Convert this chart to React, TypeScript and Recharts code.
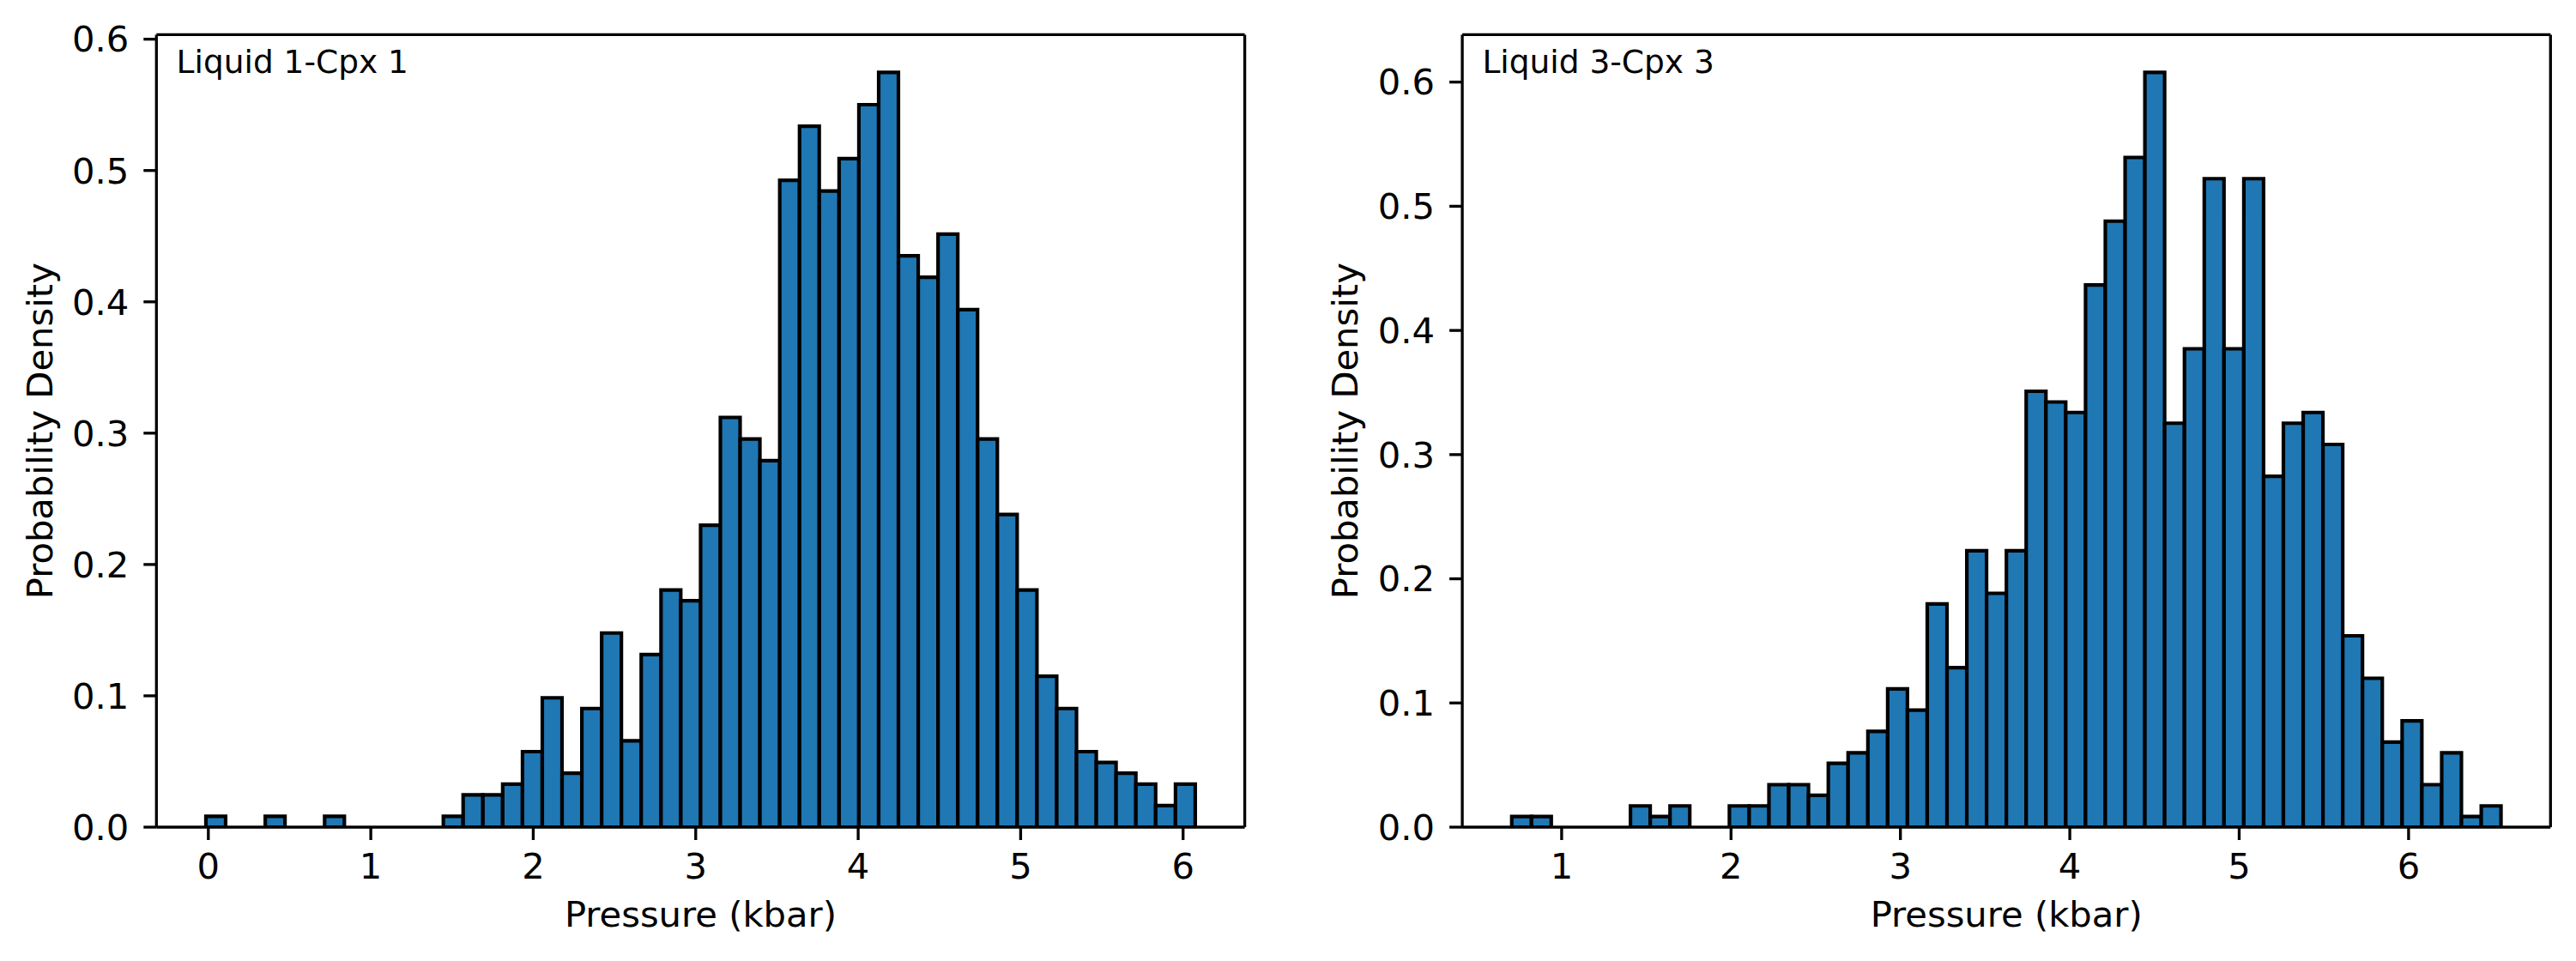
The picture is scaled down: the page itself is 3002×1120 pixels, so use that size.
import React from 'react';
import { BarChart, Bar, XAxis, YAxis, ReferenceLine } from 'recharts';

// Liquid 1 - Cpx 1: 50 equal bins, probability density per bin
const liq1BinStart = -0.015;
const liq1BinWidth = 0.1218;
const liq1Density = [
  0.0082, 0, 0, 0.0082, 0, 0, 0.0082, 0, 0, 0,
  0, 0, 0.0082, 0.0246, 0.0246, 0.0328, 0.0575, 0.0985, 0.0411, 0.0903,
  0.1478, 0.0657, 0.1314, 0.1806, 0.1724, 0.2299, 0.3120, 0.2956, 0.2791, 0.4926,
  0.5337, 0.4844, 0.5090, 0.5501, 0.5747, 0.4351, 0.4187, 0.4516, 0.3941, 0.2956,
  0.2381, 0.1806, 0.1149, 0.0903, 0.0575, 0.0493, 0.0411, 0.0328, 0.0164, 0.0328,
];

// Liquid 3 - Cpx 3: 50 equal bins, probability density per bin
const liq3BinStart = 0.7054;
const liq3BinWidth = 0.11681;
const liq3Density = [
  0.0086, 0.0086, 0, 0, 0, 0, 0.0171, 0.0086, 0.0171, 0,
  0, 0.0171, 0.0171, 0.0342, 0.0342, 0.0257, 0.0514, 0.0599, 0.0771, 0.1113,
  0.0942, 0.1798, 0.1284, 0.2226, 0.1883, 0.2226, 0.3510, 0.3424, 0.3339, 0.4366,
  0.4880, 0.5393, 0.6078, 0.3253, 0.3852, 0.5222, 0.3852, 0.5222, 0.2825, 0.3253,
  0.3339, 0.3082, 0.1541, 0.1199, 0.0685, 0.0856, 0.0342, 0.0599, 0.0086, 0.0171,
];

const liq1XTicks = [0, 1, 2, 3, 4, 5, 6];
const liq3XTicks = [1, 2, 3, 4, 5, 6];
const densityTicks = [0, 0.1, 0.2, 0.3, 0.4, 0.5, 0.6];

const BLUE = '#1f77b4';
const FONT = 41.7;
const SPINE = 3.33;

const toBins = (start: number, width: number, density: number[]) =>
  density.map((d, i) => ({ mid: start + (i + 0.5) * width, density: d }));

// matplotlib-style limits: 5% padding on x, 5% headroom on y
const paddedX = (start: number, width: number, n: number): [number, number] => {
  const span = width * n;
  return [start - 0.05 * span, start + span + 0.05 * span];
};

const YTitle = (props: any) => {
  const vb = props.viewBox;
  const x = vb.x + vb.width - 121.7;
  const y = vb.y + vb.height / 2;
  return (
    <text x={x} y={y} transform={`rotate(-90 ${x} ${y})`} textAnchor="middle" fontSize={FONT} fill="#000">
      Probability Density
    </text>
  );
};

// sample name in the upper-left corner of the frame
const CornerNote = (props: any) => {
  const vb = props.viewBox;
  return (
    <text x={vb.x + 23.3} y={vb.y + 44.6} fontSize={37.5} fill="#000">
      {props.value}
    </text>
  );
};

interface HistProps {
  title: string;
  start: number;
  width: number;
  density: number[];
  xTicks: number[];
  chartWidth: number;
  yAxisWidth: number;
  rightMargin: number;
}

const Histogram: React.FC<HistProps> = ({ title, start, width, density, xTicks, chartWidth, yAxisWidth, rightMargin }) => {
  const data = toBins(start, width, density);
  const xDomain = paddedX(start, width, density.length);
  const yMax = Math.max(...density) * 1.05;
  const line = { stroke: '#000', strokeWidth: SPINE };
  return (
    <BarChart
      width={chartWidth}
      height={1120}
      data={data}
      margin={{ top: 40.4, right: rightMargin, bottom: 36, left: 0 }}
      barCategoryGap={0}
      barGap={0}
    >
      <XAxis
        dataKey="mid"
        type="number"
        domain={xDomain}
        allowDataOverflow
        ticks={xTicks}
        interval={0}
        height={120}
        tickSize={15}
        tickMargin={15}
        axisLine={line}
        tickLine={line}
        tick={{ fill: '#000', fontSize: FONT }}
        label={{ value: 'Pressure (kbar)', position: 'insideBottom', offset: 4, fill: '#000', fontSize: FONT }}
      />
      <YAxis
        type="number"
        domain={[0, yMax]}
        allowDataOverflow
        ticks={densityTicks}
        interval={0}
        width={yAxisWidth}
        tickSize={15}
        tickMargin={17}
        axisLine={line}
        tickLine={line}
        tick={{ fill: '#000', fontSize: FONT }}
        tickFormatter={(v: number) => v.toFixed(1)}
        label={{ value: 'Probability Density', content: YTitle }}
      />
      <Bar dataKey="density" fill={BLUE} stroke="#000" strokeWidth={4.17} isAnimationActive={false} />
      {/* top and right spines close the frame */}
      <ReferenceLine
        y={yMax}
        stroke="#000"
        strokeWidth={SPINE}
        label={{ value: title, content: CornerNote }}
      />
      <ReferenceLine x={xDomain[1]} stroke="#000" strokeWidth={SPINE} />
    </BarChart>
  );
};

export default function App() {
  return (
    <div
      style={{
        position: 'absolute',
        left: 0,
        top: 0,
        width: 3002,
        height: 1120,
        background: '#fff',
        fontFamily: '"DejaVu Sans", sans-serif',
      }}
    >
      <div style={{ position: 'absolute', left: 0, top: 0 }}>
        <Histogram
          title="Liquid 1-Cpx 1"
          start={liq1BinStart}
          width={liq1BinWidth}
          density={liq1Density}
          xTicks={liq1XTicks}
          chartWidth={1500}
          yAxisWidth={182.3}
          rightMargin={49.4}
        />
      </div>
      <div style={{ position: 'absolute', left: 1500, top: 0 }}>
        <Histogram
          title="Liquid 3-Cpx 3"
          start={liq3BinStart}
          width={liq3BinWidth}
          density={liq3Density}
          xTicks={liq3XTicks}
          chartWidth={1502}
          yAxisWidth={204.1}
          rightMargin={29.7}
        />
      </div>
    </div>
  );
}
